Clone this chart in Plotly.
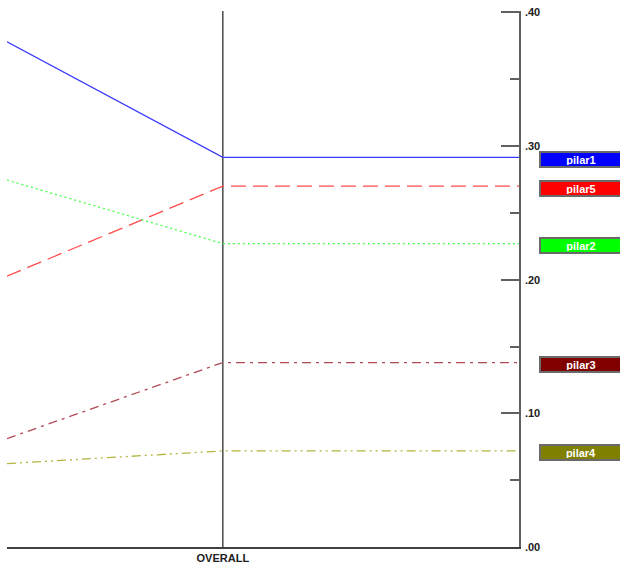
import plotly.graph_objects as go

# ---- data ----
categories = ["", "OVERALL"]
series_names = ["pilar1", "pilar5", "pilar2", "pilar3", "pilar4"]
values_prev = [0.378, 0.2026, 0.2745, 0.0811, 0.0624]
values_overall = [0.2915, 0.270, 0.227, 0.138, 0.0719]
y_tick_vals = [0.0, 0.1, 0.2, 0.3, 0.4]
y_tick_text = [".00", ".10", ".20", ".30", ".40"]

# ---- styles ----
line_colors = ["#3a3aff", "#ff4a4a", "#44ff44", "#b04a55", "#b4b440"]
box_colors = ["#0000ff", "#ff0000", "#00ff00", "#800000", "#808000"]
dashes = ["solid", "15px,7px", "2px,3px", "9px,5px,3px,5px", "9px,4px,2px,4px,2px,4px"]

x_end = 2.372  # right edge of the plot in category units

W, H = 620, 576
L, R, T, B = 7, 101, 11, 29
plot_w = W - L - R

fig = go.Figure()
for i, name in enumerate(series_names):
    fig.add_trace(go.Scatter(
        x=[0, 1, x_end],
        y=[values_prev[i], values_overall[i], values_overall[i]],
        mode="lines",
        line=dict(color=line_colors[i], width=1.3, dash=dashes[i]),
        name=name,
        showlegend=False,
        hoverinfo="skip",
    ))
    fig.add_annotation(
        xref="paper", yref="y",
        x=(539 - L) / plot_w, y=values_overall[i],
        xanchor="left", yanchor="middle", yshift=-2,
        text="<b>%s</b>" % name,
        showarrow=False,
        font=dict(family="Liberation Sans, Arial", size=11, color="white"),
        bgcolor=box_colors[i],
        bordercolor="#6a6a6a", borderwidth=2, borderpad=1,
        width=78, height=11, align="center",
    )

# vertical line at OVERALL
fig.add_shape(type="line", xref="x", yref="paper", x0=1, x1=1, y0=0, y1=1,
              line=dict(color="#303030", width=1.3), layer="below")

fig.update_layout(
    width=W, height=H,
    margin=dict(l=L, r=R, t=T, b=B, autoexpand=False),
    plot_bgcolor="white", paper_bgcolor="white",
    font=dict(family="Liberation Sans, Arial", size=11, color="#202020"),
)
fig.update_xaxes(
    range=[0, x_end],
    tickmode="array", tickvals=[1], ticktext=["<b>%s</b>" % categories[1]],
    showgrid=False, zeroline=False,
    showline=True, linecolor="#404040", linewidth=1.5,
    ticks="", tickfont=dict(size=11, color="#202020"),
)
fig.update_yaxes(
    side="right", range=[0, 0.401],
    tickmode="array", tickvals=y_tick_vals,
    ticktext=["<b>%s</b>" % t for t in y_tick_text],
    showgrid=False, zeroline=False,
    showline=True, linecolor="#606060", linewidth=1.5,
    ticks="inside", ticklen=18, tickwidth=1.5, tickcolor="#606060",
    minor=dict(dtick=0.05, ticks="inside", ticklen=9, tickwidth=1.5, tickcolor="#606060"),
    tickfont=dict(size=11, color="#202020"),
    ticklabelstandoff=2,
)

fig.write_html(
    "out.html",
    config={"displayModeBar": False},
    post_script="document.body.style.margin='0px';document.body.style.overflow='hidden';",
)
